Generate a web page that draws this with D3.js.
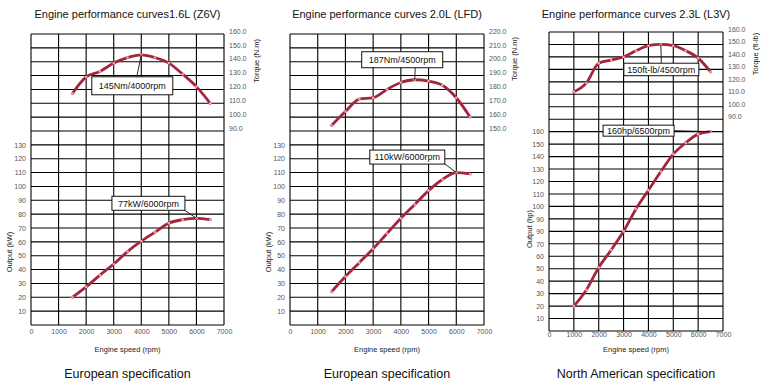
<!DOCTYPE html>
<html>
<head>
  <meta charset="utf-8">
  <script src="https://cdn.jsdelivr.net/npm/d3@7"></script>
  <style>
    body { margin: 0; background: #fff; }
    text { font-family: "Liberation Sans", Arial, Helvetica, sans-serif; }
  </style>
</head>
<body>
  <svg width="761" height="385"></svg>
<script>

// engine speed points (rpm)
const rpm16 = [1500, 2000, 2500, 3000, 3500, 4000, 4500, 5000, 5500, 6000, 6500];
const rpm20 = [1500, 2000, 2500, 3000, 3500, 4000, 4500, 5000, 5500, 6000, 6500];
const rpm23 = [1000, 1500, 2000, 2500, 3000, 3500, 4000, 4500, 5000, 5500, 6000, 6500];

// torque curves
const torque16 = [117, 129, 133, 139, 143, 145, 143, 139, 131, 122, 110];
const torque20 = [154, 164, 173, 174, 180, 185, 187, 186, 183, 174, 160];
const torque23 = [112, 119, 135, 137.5, 140, 145, 149, 150, 149, 145, 139, 128];

// output curves
const power16 = [20, 27.5, 36, 44, 53, 60.5, 67, 73.5, 76, 77, 76];
const power20 = [24, 35, 45, 55, 66, 77, 87, 97, 105, 110, 109];
const power23 = [20, 33, 51, 65, 80, 98, 113, 128, 142, 151, 158, 160];

// tick labels
const rpmTicks = [0, 1000, 2000, 3000, 4000, 5000, 6000, 7000];
const torqueTicks16 = [160, 150, 140, 130, 120, 110, 100, 90];
const torqueTicks20 = [220, 210, 200, 190, 180, 170, 160, 150];
const torqueTicks23 = [160, 150, 140, 130, 120, 110, 100, 90];
const powerTicksKW = [10, 20, 30, 40, 50, 60, 70, 80, 90, 100, 110, 120, 130];
const powerTicksHP = [10, 20, 30, 40, 50, 60, 70, 80, 90, 100, 110, 120, 130, 140, 150, 160];
// the printed hp axis repeats "90" where 80 should be
const powerLabelsHP = ['10', '20', '30', '40', '50', '60', '70', '90', '90', '100', '110', '120', '130', '140', '150', '160'];

const titles = ['Engine performance curves1.6L (Z6V)', 'Engine performance curves 2.0L (LFD)', 'Engine performance curves 2.3L (L3V)'];
const captions = ['European specification', 'European specification', 'North American specification'];

let svg = d3.select('svg');
svg.append('rect').attr('width', 761).attr('height', 385).attr('fill', '#fff');

let panels = [
  { title: titles[0], caption: captions[0], rpm: rpm16, torque: torque16, power: power16,
    tTicks: torqueTicks16, pTicks: powerTicksKW, pLabels: null, tTop: 160,
    left: 31, right: 224, top: 34, bottom: 325, rows: 21, xAxisY: 327,
    tLabel: 'Torque (N.m)', pLabel: 'Output (kW)', tLabelX: 256, tLabelY: 61, pLabelX: 9, pLabelY: 252,
    tNote: { text: '145Nm/4000rpm', i: 5, dx: -9, dy: 31, w: 81, h: 18, ax: 4.5, ay: -9 },
    pNote: { text: '77kW/6000rpm', i: 9, dx: -48, dy: -15, w: 73, h: 14, ax: 36.5, ay: 7 } },
  { title: titles[1], caption: captions[1], rpm: rpm20, torque: torque20, power: power20,
    tTicks: torqueTicks20, pTicks: powerTicksKW, pLabels: null, tTop: 220,
    left: 290, right: 484, top: 34, bottom: 325, rows: 21, xAxisY: 327,
    tLabel: 'Torque (N.m)', pLabel: 'Output (kW)', tLabelX: 514, tLabelY: 59, pLabelX: 268, pLabelY: 252,
    tNote: { text: '187Nm/4500rpm', i: 6, dx: -12.5, dy: -20, w: 81, h: 16, ax: 13, ay: 8 },
    pNote: { text: '110kW/6000rpm', i: 9, dx: -49, dy: -15.5, w: 75, h: 14, ax: 36.5, ay: 6 } },
  { title: titles[2], caption: captions[2], rpm: rpm23, torque: torque23, power: power23,
    tTicks: torqueTicks23, pTicks: powerTicksHP, pLabels: powerLabelsHP, tTop: 160,
    left: 549, right: 723, top: 32, bottom: 331, rows: 24, xAxisY: 330,
    tLabel: 'Torque (ft-lb)', pLabel: 'Output (hp)', tLabelX: 755, tLabelY: 54, pLabelX: 529, pLabelY: 229,
    tNote: { text: '150ft-lb/4500rpm', i: 7, dx: 0.5, dy: 25, w: 75, h: 12.5, ax: 0, ay: -6.25 },
    pNote: { text: '160hp/6500rpm', i: 11, dx: -72, dy: -1, w: 71, h: 11, ax: 35.5, ay: 0 } }
];

let drawNote = (g, note, px, py) => {
  let cx = px + note.dx, cy = py + note.dy;
  g.append('line')
    .attr('x1', px).attr('y1', py)
    .attr('x2', cx + note.ax).attr('y2', cy + note.ay)
    .attr('stroke', '#111').attr('stroke-width', 0.9);
  g.append('rect')
    .attr('x', cx - note.w / 2).attr('y', cy - note.h / 2)
    .attr('width', note.w).attr('height', note.h)
    .attr('fill', '#fff').attr('stroke', '#111').attr('stroke-width', 1);
  g.append('text')
    .attr('x', cx).attr('y', cy).attr('dy', '0.36em')
    .attr('text-anchor', 'middle')
    .style('font-size', '9px').attr('fill', '#111')
    .text(note.text);
};

let drawCurve = (g, xs, ys, x, y) => {
  let pts = xs.map((d, i) => [x(d), y(ys[i])]);
  g.append('path')
    .attr('d', d3.line().curve(d3.curveMonotoneX)(pts))
    .attr('fill', 'none').attr('stroke', '#a3263c')
    .attr('stroke-width', 2.8).attr('stroke-linecap', 'round');
  g.selectAll(null).data(pts).enter().append('circle')
    .attr('cx', d => d[0]).attr('cy', d => d[1]).attr('r', 1.3)
    .attr('fill', '#f0a4ae');
};

panels.forEach(p => {
  let g = svg.append('g');
  let x = d3.scaleLinear().domain([0, 7000]).range([p.left, p.right]);
  let yT = d3.scaleLinear().domain([p.tTop, p.tTop - p.rows * 10]).range([p.top, p.bottom]);
  let yP = d3.scaleLinear().domain([0, p.rows * 10]).range([p.bottom, p.top]);
  let cx = (p.left + p.right) / 2;

  // grid
  g.selectAll(null).data(d3.range(0, p.rows * 10 + 1, 10)).enter().append('line')
    .attr('x1', p.left).attr('x2', p.right)
    .attr('y1', d => yP(d)).attr('y2', d => yP(d))
    .attr('stroke', '#000').attr('stroke-width', 1.1);
  g.selectAll(null).data(rpmTicks).enter().append('line')
    .attr('x1', d => x(d)).attr('x2', d => x(d))
    .attr('y1', p.top).attr('y2', p.bottom)
    .attr('stroke', '#000').attr('stroke-width', 1.1);

  // axes (labels only)
  let ax = g.append('g').attr('transform', 'translate(0,' + p.xAxisY + ')')
    .call(d3.axisBottom(x).tickValues(rpmTicks).tickSize(0).tickPadding(2).tickFormat(d3.format('d')));
  let al = g.append('g').attr('transform', 'translate(' + (p.left - 2) + ',0)')
    .call(d3.axisLeft(yP).tickValues(p.pTicks).tickSize(0)
      .tickFormat((d, i) => p.pLabels ? p.pLabels[i] : d));
  let ar = g.append('g').attr('transform', 'translate(' + (p.right + 2) + ',-3)')
    .call(d3.axisRight(yT).tickValues(p.tTicks).tickSize(0).tickFormat(d3.format('.1f')));
  [ax, al, ar].forEach(a => {
    a.select('.domain').remove();
    a.selectAll('text').style('font-size', '7px').attr('fill', '#555')
      .style('font-family', '"Liberation Sans", Arial, sans-serif');
  });

  // titles
  g.append('text').attr('x', cx).attr('y', 18).attr('text-anchor', 'middle')
    .style('font-size', '11px').attr('fill', '#111').text(p.title);
  g.append('text').attr('x', cx).attr('y', 352).attr('text-anchor', 'middle')
    .style('font-size', '7.5px').attr('fill', '#222').text('Engine speed (rpm)');
  g.append('text').attr('x', cx).attr('y', 378).attr('text-anchor', 'middle')
    .style('font-size', '12.5px').attr('fill', '#111').text(p.caption);
  g.append('text').attr('transform', 'translate(' + p.tLabelX + ',' + p.tLabelY + ') rotate(-90)')
    .attr('text-anchor', 'middle').attr('dy', '0.35em')
    .style('font-size', '7.5px').attr('fill', '#222').text(p.tLabel);
  g.append('text').attr('transform', 'translate(' + p.pLabelX + ',' + p.pLabelY + ') rotate(-90)')
    .attr('text-anchor', 'middle').attr('dy', '0.35em')
    .style('font-size', '7.5px').attr('fill', '#222').text(p.pLabel);

  // curves
  drawCurve(g, p.rpm, p.torque, x, yT);
  drawCurve(g, p.rpm, p.power, x, yP);

  drawNote(g, p.tNote, x(p.rpm[p.tNote.i]), yT(p.torque[p.tNote.i]));
  drawNote(g, p.pNote, x(p.rpm[p.pNote.i]), yP(p.power[p.pNote.i]));
});

</script>
</body>
</html>
